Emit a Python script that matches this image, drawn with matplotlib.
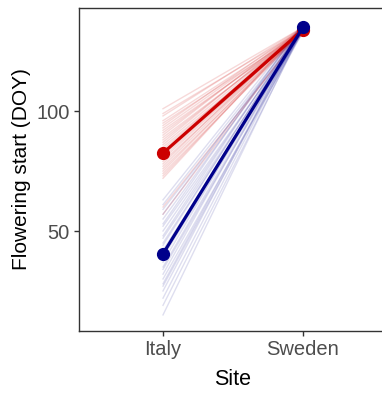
import matplotlib
matplotlib.use("Agg")
import matplotlib.pyplot as plt

plt.rcParams['font.family'] = ['Liberation Sans', 'DejaVu Sans']

SITES = ['Italy', 'Sweden']

# individual genotypes (thin lines)
red_italy = [101, 99, 98, 96, 95, 94, 93, 92, 91, 90, 89, 88, 87, 86, 85, 84,
             83, 82, 81, 80, 79, 78, 77, 76, 75, 74, 73, 72, 60, 57]
red_sweden = [135, 134, 135, 134, 133, 135, 134, 133, 134, 135, 133, 134, 135, 134, 133, 134,
              135, 133, 134, 134, 133, 135, 134, 133, 134, 133, 134, 135, 133, 134]
blue_italy = [63, 61, 59, 57, 55, 53, 52, 50, 48, 47, 45, 44, 42, 40, 39, 37,
              35, 34, 32, 30, 28, 27, 25, 22, 19, 15]
blue_sweden = [136, 135, 134, 136, 135, 137, 134, 135, 136, 134, 135, 136, 133, 135, 134, 136,
               135, 134, 136, 133, 135, 134, 136, 135, 134, 135]

# means (thick lines)
red_mean = [82.5, 134]
blue_mean = [40.5, 135]

RED = '#CC0000'
BLUE = '#00008B'

fig = plt.figure(figsize=(3.82, 3.93), dpi=100)
ax = fig.add_axes([79 / 382, 62 / 393, 308 / 382, 323 / 393])

x = [1, 2]
for a, b in zip(red_italy, red_sweden):
    ax.plot(x, [a, b], color=RED, alpha=0.15, lw=1.0, zorder=1)
for a, b in zip(blue_italy, blue_sweden):
    ax.plot(x, [a, b], color=BLUE, alpha=0.13, lw=1.0, zorder=1)

ax.plot(x, red_mean, color=RED, lw=2.3, marker='o', ms=8.5, zorder=3)
ax.plot(x, blue_mean, color=BLUE, lw=2.3, marker='o', ms=8.5, zorder=4)

ax.set_xlim(0.4, 2.6)
ax.set_ylim(8.3, 143)
ax.set_xticks(x)
ax.set_xticklabels(SITES)
ax.set_yticks([50, 100])

for s in ax.spines.values():
    s.set_color('#333333')
    s.set_linewidth(1.0)
ax.tick_params(colors='#333333', labelcolor='#4D4D4D', labelsize=14.5, length=3.5, width=1.0,
               pad=3)

ax.set_xlabel('Site', fontsize=15.5, labelpad=7)
ax.set_ylabel('Flowering start (DOY)', fontsize=15, labelpad=4)

fig.savefig('out.png', dpi=100)
